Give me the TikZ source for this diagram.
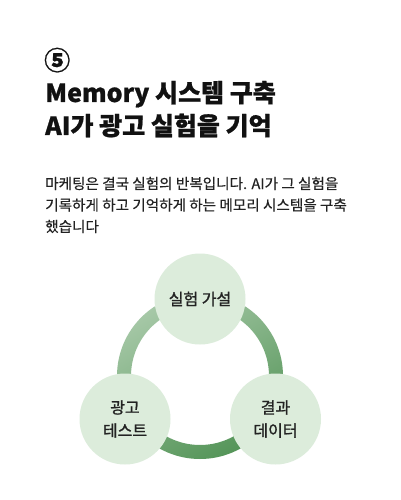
\documentclass[tikz,border=0pt]{standalone}
\usepackage{fontspec}
\setmainfont{Noto Sans CJK KR}[BoldFeatures={FakeBold=0.8}]
\newfontfamily\krmed{Noto Sans CJK KR}[FakeBold=1.2]
\newfontfamily\krbody{Noto Sans CJK KR}[FakeBold=0.4]
\definecolor{titlecol}{HTML}{111111}
\definecolor{bodycol}{HTML}{222222}
\definecolor{nodefill}{HTML}{DCECDB}
\definecolor{ringlight}{HTML}{A6C8A7}
\definecolor{ringdark}{HTML}{559559}
\tikzset{
  titletext/.style={anchor=base west, inner sep=0pt, text=titlecol, font=\fontsize{25}{30}\selectfont\bfseries},
  bodytext/.style={anchor=base west, inner sep=0pt, text=bodycol, font=\fontsize{14.6}{20}\selectfont\krbody},
  stepnode/.style={circle, fill=nodefill, minimum size=91pt, inner sep=0pt, align=center, text=bodycol, font=\fontsize{16}{23}\selectfont\krmed},
}
\begin{document}
\begin{tikzpicture}[x=1pt,y=-1pt]
\useasboundingbox (0,0) rectangle (400,500);
\fill[white] (0,0) rectangle (400,500);
% heading
\node[titletext, font=\fontsize{26}{30}\selectfont\bfseries] (num) at (44,70) {⑤};
\node[titletext] (t1) at (45,102) {Memory 시스템 구축};
\node[titletext] (t2) at (45,135) {AI가 광고 실험을 기억};
% body
\node[bodytext] (b1) at (45,189) {마케팅은 결국 실험의 반복입니다. AI가 그 실험을};
\node[bodytext] (b2) at (45,210.5) {기록하게 하고 기억하게 하는 메모리 시스템을 구축};
\node[bodytext] (b3) at (45,232) {했습니다};
% ring
\coordinate (rc) at (200,376);
\shade[even odd rule, top color=ringlight, bottom color=ringdark, shading angle=30]
  (rc) circle[radius=83] (rc) circle[radius=69];
% nodes
\node[stepnode] (hyp) at (200,299) {실험 가설};
\node[stepnode] (test) at (125,419) {광고\\테스트};
\node[stepnode] (data) at (275.5,419) {결과\\데이터};
\end{tikzpicture}
\end{document}
